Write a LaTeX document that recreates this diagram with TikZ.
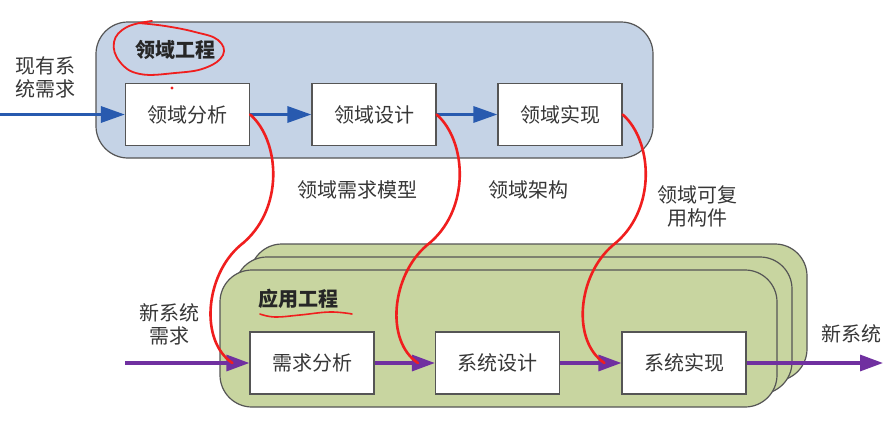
\documentclass[tikz,border=0pt]{standalone}
\usepackage{fontspec}
\newfontfamily\cjk{Noto Sans CJK SC}
\usetikzlibrary{arrows.meta,calc}
\definecolor{bluefill}{RGB}{197,211,230}
\definecolor{greenfill}{RGB}{200,213,160}
\definecolor{edgegray}{RGB}{85,85,85}
\definecolor{bluearrow}{RGB}{40,90,175}
\definecolor{purplearrow}{RGB}{112,48,160}
\definecolor{redmark}{RGB}{240,30,30}
\definecolor{textgray}{RGB}{55,55,55}
\begin{document}
\begin{tikzpicture}[x=1pt,y=-1pt,
  every node/.style={font=\cjk\fontsize{20}{24}\selectfont, text=textgray},
  procbox/.style={draw=edgegray, line width=1.2pt, fill=white, minimum width=124pt, minimum height=62pt, inner sep=0pt},
  bluecont/.style={draw=edgegray, line width=1.2pt, fill=bluefill, rounded corners=32pt},
  greencont/.style={draw=edgegray, line width=1.2pt, fill=greenfill, rounded corners=32pt},
  bluearr/.style={draw=bluearrow, line width=3.2pt, -{Triangle[length=24pt,width=16pt]}},
  purparr/.style={draw=purplearrow, line width=3.2pt, -{Triangle[length=23pt,width=16pt]}},
  redline/.style={draw=redmark, line width=2.6pt, line cap=round},
  lbl/.style={inner sep=0pt, align=center},
  titletext/.style={inner sep=0pt, font=\cjk\bfseries\fontsize{20}{24}\selectfont, text=black!85}
]
\useasboundingbox (0,0) rectangle (891,431);
\fill[white] (0,0) rectangle (891,431);

% domain engineering container
\draw[bluecont] (96,22) rectangle (653,158);
\node[titletext] (dtitle) at (175,50) {领域工程};

% application engineering stacked containers
\draw[greencont] (250,244) rectangle (807,381);
\draw[greencont] (235,257) rectangle (792,394);
\draw[greencont] (220,270) rectangle (777,407);
\node[titletext] (atitle) at (298,299) {应用工程};

% top boxes
\node[procbox] (a1) at (187.5,114.5) {领域分析};
\node[procbox] (a2) at (374,114.5) {领域设计};
\node[procbox] (a3) at (560,114.5) {领域实现};

% bottom boxes
\node[procbox] (b1) at (312,363) {需求分析};
\node[procbox] (b2) at (497.5,363) {系统设计};
\node[procbox] (b3) at (684,363) {系统实现};

% input / output coordinates
\coordinate (inA) at (0,114.5);
\coordinate (inB) at (125,363);
\coordinate (outB) at (883,363);

% labels
\node[lbl] (lexist) at (45,77) {现有系\\[-1pt]统需求};
\node[lbl] (lnew) at (169,324) {新系统\\[-1pt]需求};
\node[lbl] (lout) at (851,334) {新系统};
\node[lbl] (l1) at (357,190) {领域需求模型};
\node[lbl] (l2) at (528,190) {领域架构};
\node[lbl] (l3) at (697,206) {领域可复\\[-1pt]用构件};

% blue arrows
\draw[bluearr] (inA) -- (a1.west);
\draw[bluearr] (a1.east) -- (a2.west);
\draw[bluearr] (a2.east) -- (a3.west);

% purple arrows
\draw[purparr] (inB) -- (b1.west);
\draw[purparr] (b1.east) -- (b2.west);
\draw[purparr] (b2.east) -- (b3.west);
\draw[purparr] (b3.east) -- (outB);

% red curves
\foreach \s/\e in {a1/b1,a2/b2,a3/b3}{
  \coordinate (m\s) at ($(\s.east)+(-10,131)$);
  \coordinate (e\s) at ($(\e.west)+(-17,0)$);
  \draw[redline] (\s.east) .. controls +(30,26) and +(45,-35) .. (m\s)
     .. controls +(-35,30) and +(-33,-22) .. (e\s);
}

% red annotations
\draw[redline, line width=1.8pt] plot[smooth, tension=0.7] coordinates {(152,21) (127,27) (114,42) (120,62) (140,74) (175,73) (205,68) (223,55) (218,40) (195,32) (165,26) (138,23)};
\fill[redmark] (172,88) circle (1.6);
\draw[redline, line width=1.6pt] plot[smooth, tension=0.7] coordinates {(260,314) (275,317) (300,315) (330,312) (352,314)};
\end{tikzpicture}
\end{document}
